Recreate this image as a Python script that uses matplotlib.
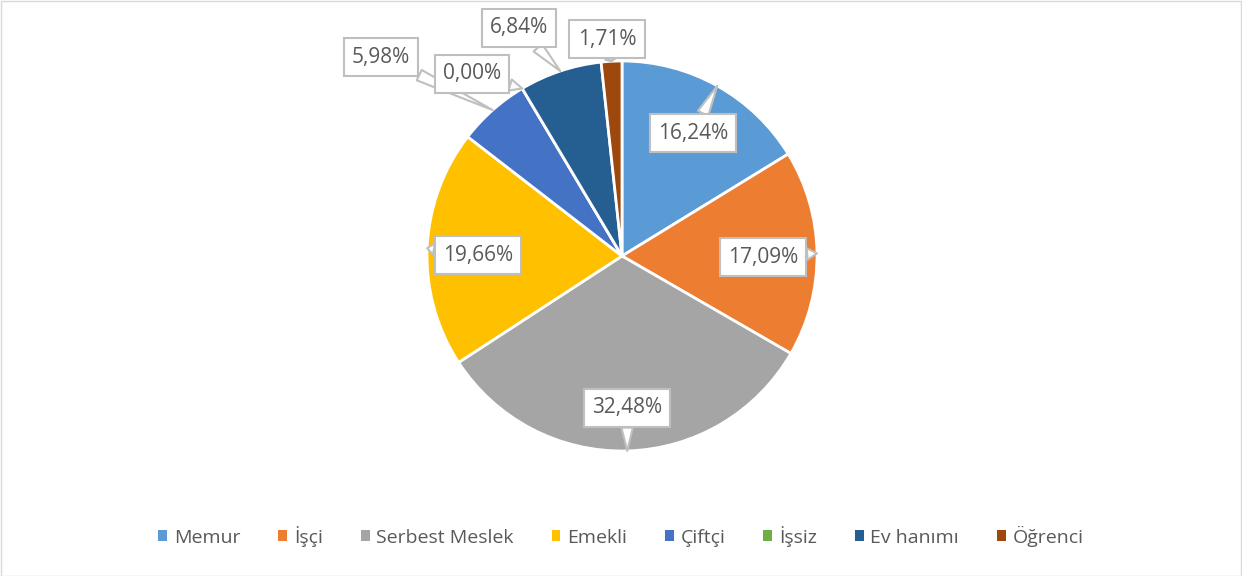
import matplotlib
matplotlib.use("Agg")
import matplotlib.pyplot as plt
import numpy as np
from matplotlib.patches import Rectangle

categories = ["Memur", "İşçi", "Serbest Meslek", "Emekli", "Çiftçi", "İşsiz", "Ev hanımı", "Öğrenci"]
values = [16.24, 17.09, 32.48, 19.66, 5.98, 0.00, 6.84, 1.71]
labels = ["16,24%", "17,09%", "32,48%", "19,66%", "5,98%", "0,00%", "6,84%", "1,71%"]
colors = ["#5B9BD5", "#ED7D31", "#A5A5A5", "#FFC000", "#4472C4", "#70AD47", "#255E91", "#9E480E"]

# label box centers in pixels (style / layout)
label_px = [(693, 133), (763, 257), (627, 408), (478, 255), (381, 57), (472, 74), (519, 28), (607, 39)]

W, H = 1242, 576
CX, CY, R = 622, 256, 195
plt.rcParams['font.family'] = ['Open Sans', 'DejaVu Sans']
fig = plt.figure(figsize=(W/100, H/100), dpi=100)
half = 250
ax = fig.add_axes([(CX-half)/W, (H-CY-half)/H, 2*half/W, 2*half/H])

wedges, _ = ax.pie(values, colors=colors, startangle=90, counterclock=False, radius=1,
                   wedgeprops=dict(edgecolor='white', linewidth=2.0))
lim = half / R
ax.set_xlim(-lim, lim)
ax.set_ylim(-lim, lim)
ax.set_aspect('equal')
ax.axis('off')

def px2d(px, py):
    return ((px - CX) / R, (CY - py) / R)

for w, lab, (px, py) in zip(wedges, labels, label_px):
    ang = np.deg2rad((w.theta1 + w.theta2) / 2)
    tip = (np.cos(ang), np.sin(ang))
    ax.annotate(lab, xy=tip, xytext=px2d(px, py), ha='center', va='center',
                fontsize=15, color='#595959', annotation_clip=False,
                bbox=dict(boxstyle='square,pad=0.4', fc='white', ec='#BFBFBF', lw=1.5),
                arrowprops=dict(arrowstyle='wedge,tail_width=0.55,shrink_factor=0.5',
                                fc='white', ec='#BFBFBF', lw=1.5, shrinkA=0, shrinkB=0),
                zorder=5)

handles = [Rectangle((0, 0), 1, 1, fc=c, ec='none') for c in colors]
fig.legend(handles, categories, loc='center', bbox_to_anchor=(0.5, (H-536)/H), ncol=8,
           frameon=False, fontsize=14, handlelength=0.45, handleheight=0.45,
           handletextpad=0.35, columnspacing=1.95, labelcolor='#595959')

fig.add_artist(Rectangle((0.5/W, 0.5/H), 1-1.5/W, 1-1.5/H, transform=fig.transFigure,
                         fill=False, ec='#D9D9D9', lw=1))
fig.savefig("out.png", dpi=100, facecolor='white')
